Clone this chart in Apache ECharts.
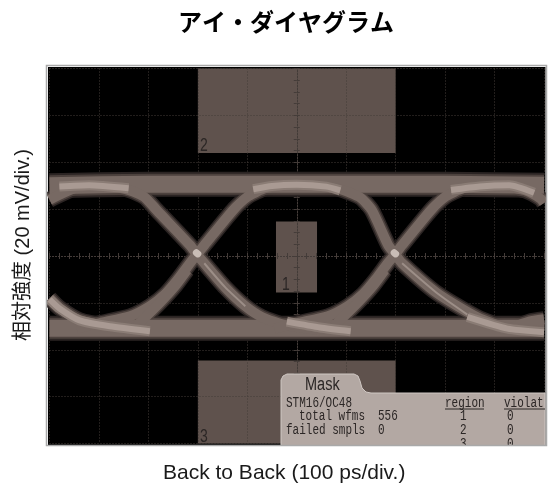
<!DOCTYPE html>
<html>
<head>
<meta charset="utf-8">
<style>html,body{margin:0;padding:0;background:#fff}#eye{width:553px;height:488px}</style>
<script src="https://cdn.jsdelivr.net/npm/echarts@6/dist/echarts.min.js"></script>
</head>
<body>
<div id="eye"></div>
<script>
// x = ps from screen centre, y = mV from screen centre
var railTop = [[-500,30.0],[-300,30.6],[0,30.6],[300,30.6],[500,30.2]];
var railBottom = [[-500,-30.8],[-300,-30.8],[0,-30.8],[300,-30.8],[500,-30.8]];

var riseEnter = [[-500,24],[-449,28.9],[-398,30.1]];
var fallA = [[-418,30.1],[-378,29.7],[-337,28],[-307,25],[-283,19.5],[-216,4.6],[-202,0.7],[-187,-3.1],[-145,-13.3],[-104,-21.4],[-70,-26.1],[-24,-29.5],[47,-31.7]];
var riseB = [[-445,-31],[-398,-28.6],[-337,-25.7],[-297,-21.4],[-266,-16.3],[-240,-9.9],[-216,-3.1],[-202,0.7],[-187,4.6],[-129,19.5],[-98,25.5],[-64,28.9],[-24,30.1]];
var fallB = [[47,29.9],[88,28.5],[128,25],[152,19.5],[185,4.6],[199,0.7],[213,-3.1],[284,-15.9],[365,-26.1],[426,-30.8],[500,-32.1]];
var riseC = [[-45,-31],[2,-28.6],[63,-25.7],[103,-21.4],[134,-16.3],[160,-9.9],[184,-3.1],[199,0.7],[213,4.6],[271,19.5],[302,25.5],[336,28.9],[376,30.1]];
var fallExit = [[352,30.1],[422,29.7],[462,28],[493,24.5],[500,22.6]];
var fallEnter = [[-500,-18],[-479,-22.3],[-439,-27.4],[-378,-30],[-297,-32.1]];
var riseExit = [[430,-31],[470,-28],[500,-27]];
var fuzzB = [[-325,-30],[-275,-19.5],[-245,-12.5],[-222,-6]];
var fuzzC = [[75,-30],[125,-19.5],[155,-12.5],[178,-6]];

var brightTop1 = [[-480,29.7],[-420,30.2],[-340,28.9]];
var brightTop2 = [[-88,28.5],[-50,29.9],[0,30.4],[60,29.6],[88,28]];
var brightTop3 = [[312,28.2],[370,29.7],[430,30.2],[480,27]];
var brightBottom1 = [[-500,-18.5],[-479,-22.5],[-439,-27.5],[-378,-30],[-297,-32.1]];
var brightBottom2 = [[-20,-28],[47,-30.5],[109,-32.1]];
var brightBottom3 = [[345,-26],[426,-31],[500,-32.5]];
var sparkA = [[-187,-3.1],[-145,-13.3],[-104,-21.4]];
var sparkB = [[213,-3.1],[284,-15.9],[345,-25]];
var crossA = [[-203,1.4],[-200,0.9]];
var crossB = [[197,1.4],[200,0.9]];

// [x from, x to, y from, y to]
var mask1 = [-42,41,14.7,-15.6];
var mask2 = [-200,200,80,44];
var mask3 = [-200,200,-44.6,-80];

var rails = [railTop, railBottom];
var edges = [riseEnter, fallA, riseB, fallB, riseC, fallExit, fallEnter, riseExit, fuzzB, fuzzC];
var brights = [brightTop1, brightTop2, brightTop3, brightBottom1, brightBottom2, brightBottom3];
var sparks = [sparkA, sparkB];
var crosses = [crossA, crossB];

var gridColor = '#443c39';
var inkColor = '#2b2625';
var panelFont = '"Liberation Mono", monospace';
var labelFont = '"Liberation Sans"';

function trace(data, color, width, z, cap) {
    return {
        type: 'line', data: data, showSymbol: false, symbol: 'none', smooth: 0.2, z: z, silent: true,
        lineStyle: {color: color, width: width, cap: cap || 'butt', join: 'round'}
    };
}

function area(m) {
    return [{coord: [m[0], m[2]]}, {coord: [m[1], m[3]]}];
}

var series = [{
    type: 'line', data: [], z: 2, silent: true,
    markArea: {silent: true, itemStyle: {color: '#5f524d'}, data: [area(mask1), area(mask2), area(mask3)]}
}];

// darkest halo first, brightest core last
[[25, 16, '#2b2423', 4], [21, 13, '#4d423e', 5], [17, 10, '#776963', 6]].forEach(function (l) {
    rails.forEach(function (d) { series.push(trace(d, l[2], l[0], l[3])); });
    edges.forEach(function (d) { series.push(trace(d, l[2], l[1], l[3])); });
});
brights.forEach(function (d) { series.push(trace(d, '#8a7c75', 10, 7)); });
brights.forEach(function (d) { series.push(trace(d, '#a99a93', 6, 8)); });
sparks.forEach(function (d) { series.push(trace(d, '#9c8e87', 2, 8)); });
crosses.forEach(function (d) { series.push(trace(d, '#c9bdb6', 7, 9, 'round')); });

function panelText(txt, x, y, font) {
    return {
        type: 'text', x: x, y: y, scaleY: 1.3, z: 102, silent: true,
        style: {text: txt, x: 0, y: 0, fill: inkColor, font: font || ('11px ' + panelFont), verticalAlign: 'middle'}
    };
}

function maskLabel(txt, x, y) {
    var t = panelText(txt, x, y, '14px ' + labelFont);
    t.z = 50;
    return t;
}

var centreLine = {show: true, onZero: true, lineStyle: {color: gridColor, type: [1, 2], width: 1}};
var centreTick = {show: true, length: 3, lineStyle: {color: gridColor}};

var option = {
    animation: false,
    backgroundColor: '#fff',
    title: [
        {text: 'アイ・ダイヤグラム', left: 173, top: 5,
         textStyle: {fontSize: 24, fontWeight: 'bold', color: '#000', fontFamily: '"Noto Sans CJK JP"'}},
        {text: 'Back to Back (100 ps/div.)', left: 158, top: 458,
         textStyle: {fontSize: 21, fontWeight: 'normal', color: '#1a1a1a', fontFamily: labelFont}}
    ],
    grid: {left: 49.5, right: 9, top: 68.5, bottom: 44.5, show: true, backgroundColor: '#000', borderColor: '#000', borderWidth: 3},
    xAxis: [
        {type: 'value', min: -500, max: 500, interval: 100, z: 3,
         axisLabel: {show: false}, axisLine: centreLine, axisTick: centreTick,
         minorTick: {show: true, splitNumber: 5, length: 3, lineStyle: {color: gridColor}},
         splitLine: {show: true, lineStyle: {color: gridColor, type: [1, 2], width: 1}}},
        {type: 'value', min: -500, max: 500, interval: 100, z: 3, position: 'top',
         axisLabel: {show: false}, axisLine: centreLine, axisTick: centreTick,
         minorTick: {show: true, splitNumber: 5, length: 3, lineStyle: {color: gridColor}},
         splitLine: {show: false}}
    ],
    yAxis: [
        {type: 'value', min: -80, max: 80, interval: 20, z: 3,
         axisLabel: {show: false}, axisLine: centreLine, axisTick: centreTick,
         minorTick: {show: true, splitNumber: 4, length: 3, lineStyle: {color: gridColor}},
         splitLine: {show: true, lineStyle: {color: gridColor, type: [1, 2], width: 1}}},
        {type: 'value', min: -80, max: 80, interval: 20, z: 3, position: 'right',
         axisLabel: {show: false}, axisLine: centreLine, axisTick: centreTick,
         minorTick: {show: true, splitNumber: 4, length: 3, lineStyle: {color: gridColor}},
         splitLine: {show: false}}
    ],
    series: series,
    graphic: [
        {type: 'text', x: 23, y: 245, rotation: Math.PI / 2, z: 50, silent: true,
         style: {text: '相対強度 (20 mV/div.)', fill: '#1a1a1a', align: 'center', verticalAlign: 'middle',
                 font: '20px ' + labelFont + ', "Noto Sans CJK JP"'}},
        maskLabel('2', 200, 146),
        maskLabel('1', 282, 285),
        maskLabel('3', 200, 437),
        {type: 'polygon', z: 100, silent: true,
         shape: {points: [[281,446],[281,380],[283,376],[287,374],[354,374],[358,376],[360,381],[362,388],[366,392],[371,393],[545,393],[545,446]]},
         style: {fill: '#b3a8a3', stroke: '#cfc7c3', lineWidth: 1}},
        panelText('Mask', 305, 385, '14.5px ' + labelFont),
        panelText('STM16/OC48', 286, 403),
        panelText('total wfms', 299, 416),
        panelText('556', 378, 416),
        panelText('failed smpls', 286, 430),
        panelText('0', 378, 430),
        panelText('region', 445, 403),
        panelText('violat', 504, 403),
        {type: 'line', z: 102, silent: true, shape: {x1: 445, y1: 409, x2: 484, y2: 409}, style: {stroke: inkColor, lineWidth: 1}},
        {type: 'line', z: 102, silent: true, shape: {x1: 504, y1: 409, x2: 545, y2: 409}, style: {stroke: inkColor, lineWidth: 1}},
        panelText('1', 460, 416), panelText('0', 507, 416),
        panelText('2', 460, 430), panelText('0', 507, 430),
        panelText('3', 460, 444), panelText('0', 507, 444),
        // hides the row the scope screen cuts off, trace overrun at the sides, then the frame
        {type: 'rect', z: 110, silent: true, shape: {x: 40, y: 445, width: 513, height: 10}, style: {fill: '#fff'}},
        {type: 'rect', z: 110, silent: true, shape: {x: 35, y: 160, width: 11, height: 190}, style: {fill: '#fff'}},
        {type: 'rect', z: 110, silent: true, shape: {x: 547, y: 160, width: 6, height: 190}, style: {fill: '#fff'}},
        {type: 'rect', z: 111, silent: true, shape: {x: 46.5, y: 65.5, width: 500, height: 380},
         style: {fill: 'none', stroke: '#a9a9a9', lineWidth: 1.5}}
    ]
};

var chart = echarts.init(document.getElementById('eye'));
chart.setOption(option);
</script>
</body>
</html>
